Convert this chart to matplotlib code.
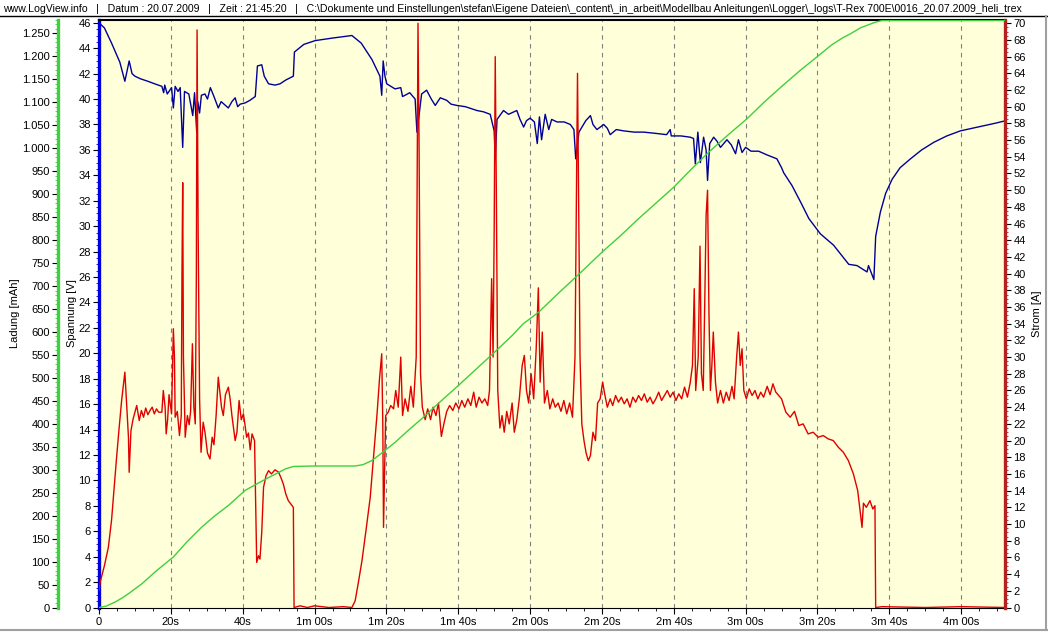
import matplotlib
matplotlib.use('Agg')
import matplotlib.pyplot as plt
from matplotlib.ticker import MultipleLocator, FuncFormatter
from matplotlib.lines import Line2D

# log values (time in s)
voltage_pts = [
    (0, 46.0), (1.5, 45.6), (3.5, 44.4), (5.8, 42.9), (7.2, 41.4), (8.4, 43.0), (9.2, 42.0),
    (10, 41.8), (11.5, 41.6), (13.6, 41.4), (15.5, 41.2), (17.5, 41.0), (18.0, 40.5), (18.3, 41.1),
    (19.0, 40.4), (20.2, 40.9), (20.7, 39.3), (21.2, 41.0), (22.0, 40.6), (22.6, 40.9), (23.3, 36.2),
    (23.8, 40.6), (25.0, 40.4), (26.1, 38.7), (26.6, 40.5), (27.2, 37.4), (27.5, 39.8), (28.0, 38.9),
    (28.5, 40.3), (29.5, 40.4), (30.2, 40.0), (31.0, 40.9), (32.0, 40.2), (33.2, 39.3), (34.0, 39.8),
    (34.8, 39.6), (36.0, 39.3), (37.0, 39.8), (37.9, 40.1), (38.6, 39.4), (39.3, 39.6), (40.7, 39.7),
    (42.0, 39.9), (43.5, 40.2), (44.1, 42.6), (45.3, 42.7), (46.0, 41.8), (47.2, 41.2), (49.0, 41.1),
    (50.4, 41.2), (52.0, 41.5), (54.1, 41.8), (54.4, 43.7), (57.0, 44.3), (60.2, 44.6), (65.0, 44.8),
    (70.4, 45.0), (73.0, 44.4), (76.0, 43.1), (78.2, 41.8), (78.7, 40.3), (79.1, 43.0), (79.6, 41.8),
    (80.1, 41.2), (82.4, 40.8), (84.0, 40.9), (84.5, 40.2), (85.2, 40.3), (86.5, 40.5), (88.0, 40.0),
    (88.5, 37.4), (89.0, 38.5), (89.8, 40.4), (91.2, 40.7), (92.5, 40.0), (93.6, 39.5), (95.0, 40.1),
    (96.8, 39.9), (98.0, 39.6), (99.6, 39.5), (102.0, 39.4), (105.2, 39.1), (107.0, 39.0),
    (108.9, 38.8), (110.0, 37.5), (110.3, 35.3), (110.8, 38.4), (112.6, 39.1), (114.0, 38.8),
    (116.3, 39.1), (117.2, 38.4), (118.2, 37.8), (119.0, 38.3), (120.0, 38.5), (121.2, 38.2),
    (122.0, 36.5), (122.6, 38.6), (123.2, 36.8), (124.2, 38.8), (125.2, 37.6), (126.0, 38.4),
    (127.5, 38.2), (129.5, 38.2), (131.2, 38.0), (132.2, 37.6), (132.7, 35.3), (133.6, 37.4),
    (135.5, 38.3), (136.8, 38.7), (137.5, 38.0), (138.6, 37.6), (140.5, 38.0), (141.5, 37.7),
    (142.3, 37.2), (144.0, 37.6), (146.0, 37.5), (149.0, 37.4), (151.6, 37.4), (155.0, 37.3),
    (158.0, 37.2), (159.0, 37.6), (159.3, 37.1), (162.0, 37.1), (164.6, 37.0), (165.5, 36.9),
    (166.0, 34.9), (166.7, 37.4), (167.4, 35.0), (168.3, 37.0), (169.0, 36.0), (169.4, 33.6),
    (170.0, 36.5), (171.1, 37.0), (172.0, 36.7), (173.0, 36.2), (174.8, 36.8), (176.0, 36.4),
    (177.2, 35.7), (178.0, 36.8), (179.0, 35.8), (180.0, 36.2), (181.5, 35.9), (183.6, 35.9),
    (186.0, 35.6), (188.7, 35.3), (190.0, 34.6), (190.6, 34.2), (192.9, 33.2), (195.3, 31.9),
    (197.6, 30.6), (200.8, 29.4), (204.5, 28.5), (208.7, 27.0), (211.0, 26.9), (213.8, 26.4),
    (214.2, 26.9), (215.7, 25.8), (216.2, 29.2), (217.5, 31.1), (219.0, 32.6), (220.8, 33.7),
    (223.0, 34.6), (225.9, 35.3), (229.0, 36.0), (232.4, 36.6), (236.0, 37.1), (239.8, 37.5),
    (243.0, 37.7), (246.3, 37.9), (249.5, 38.1), (252.4, 38.3),
]

current_pts = [
    (0, 2.0), (0.3, 3.0), (1.5, 5.0), (2.6, 7.2), (3.5, 10.5), (4.9, 18.0), (5.6, 21.5), (6.3, 24.8),
    (7.2, 28.2), (7.6, 25.0), (8.2, 20.4), (8.4, 16.2), (8.9, 21.2), (9.5, 22.6), (10.0, 23.4),
    (10.5, 24.2), (11.2, 22.4), (11.8, 23.6), (12.4, 22.8), (13.0, 23.9), (13.6, 23.1), (14.2, 23.6),
    (14.8, 24.0), (15.4, 23.2), (16.0, 23.8), (16.6, 23.4), (17.5, 23.4), (17.9, 26.0), (18.4, 24.0),
    (18.7, 20.8), (19.1, 22.5), (19.5, 25.5), (20.2, 23.2), (20.7, 33.4), (21.0, 30.0), (21.2, 22.8),
    (21.8, 23.5), (22.4, 20.6), (22.9, 23.0), (23.1, 40.1), (23.3, 50.9), (23.5, 30.0), (24.0, 20.4),
    (24.6, 23.0), (25.1, 21.9), (25.5, 23.5), (26.0, 31.6), (26.4, 24.0), (26.8, 22.0), (27.1, 40.0),
    (27.3, 69.2), (27.6, 45.0), (28.0, 25.0), (28.4, 18.6), (29.0, 22.2), (29.5, 21.0), (30.2, 18.5),
    (30.9, 17.8), (31.5, 20.4), (32.0, 19.5), (32.6, 23.0), (33.2, 27.6), (33.6, 26.0), (34.1, 24.0),
    (34.6, 23.0), (35.2, 25.5), (36.0, 26.4), (36.5, 25.0), (37.0, 23.0), (37.9, 20.0), (38.4, 21.0),
    (39.0, 24.8), (39.6, 22.5), (40.2, 23.2), (40.6, 22.0), (41.1, 20.4), (41.6, 20.9), (42.1, 18.9),
    (42.6, 20.8), (43.3, 20.0), (43.9, 5.4), (44.4, 6.2), (44.8, 5.8), (45.3, 9.0), (45.8, 14.4),
    (46.5, 15.8), (47.2, 16.4), (48.0, 16.0), (49.0, 16.5), (50.0, 16.2), (50.7, 15.5), (51.3, 14.8),
    (52.0, 13.6), (52.7, 12.8), (53.4, 12.4), (54.1, 12.0), (54.3, 0.0), (56.0, 0.2), (58.0, 0.0),
    (60.0, 0.2), (64.0, 0.0), (68.0, 0.1), (70.4, 0.0), (71.3, 0.8), (72.2, 3.0), (73.2, 5.6),
    (74.4, 9.5), (75.5, 13.2), (76.5, 18.5), (77.4, 23.2), (78.1, 27.5), (78.7, 30.4), (79.0, 22.0),
    (79.2, 9.6), (79.5, 16.0), (79.8, 23.0), (80.5, 23.4), (81.2, 24.2), (82.0, 23.8), (82.6, 26.0),
    (83.3, 24.0), (84.0, 30.0), (84.5, 23.0), (85.2, 25.0), (86.0, 23.5), (86.8, 26.5), (87.5, 24.0),
    (88.3, 30.0), (88.8, 70.0), (89.1, 55.0), (89.5, 28.0), (90.0, 24.0), (90.8, 22.5), (91.5, 23.8),
    (92.3, 22.5), (93.0, 24.0), (93.8, 23.0), (94.5, 24.5), (95.3, 20.5), (96.0, 22.0), (96.8, 23.5),
    (97.6, 24.2), (98.5, 23.6), (99.3, 24.5), (100.2, 23.8), (101.0, 24.8), (101.8, 24.0),
    (102.7, 25.0), (103.5, 24.2), (104.3, 25.8), (105.0, 24.0), (105.8, 25.2), (106.6, 24.5),
    (107.4, 25.0), (108.2, 24.2), (108.7, 26.0), (109.3, 39.4), (109.7, 30.0), (110.0, 45.0),
    (110.3, 66.0), (110.6, 50.0), (111.0, 26.0), (111.6, 21.5), (112.2, 23.0), (112.8, 21.0),
    (113.5, 23.5), (114.2, 22.0), (115.0, 24.5), (115.6, 21.0), (116.3, 22.5), (117.0, 25.0),
    (117.8, 29.0), (118.4, 30.2), (119.0, 26.0), (119.6, 24.5), (120.3, 28.0), (121.0, 25.0),
    (121.7, 31.0), (122.3, 38.3), (122.8, 27.0), (123.4, 33.0), (124.0, 24.5), (124.8, 26.0),
    (125.5, 23.8), (126.3, 25.0), (127.0, 24.0), (127.8, 24.5), (128.6, 23.5), (129.4, 24.8),
    (130.2, 23.2), (131.0, 24.5), (131.8, 22.8), (132.5, 30.0), (132.8, 44.7), (133.2, 64.0),
    (133.5, 50.0), (133.9, 30.0), (134.4, 22.0), (135.0, 20.0), (135.6, 18.5), (136.2, 17.6),
    (136.8, 18.2), (137.5, 21.0), (138.2, 20.0), (138.8, 24.5), (139.5, 25.0), (140.2, 27.0),
    (140.8, 25.5), (141.5, 24.0), (142.3, 25.0), (143.0, 24.2), (143.8, 25.4), (144.6, 24.6),
    (145.4, 25.2), (146.2, 24.4), (147.0, 25.0), (147.8, 24.0), (148.6, 25.2), (149.4, 24.6),
    (150.2, 25.4), (151.0, 24.8), (151.8, 25.6), (152.6, 24.6), (153.4, 25.2), (154.2, 24.4),
    (155.0, 25.0), (155.8, 25.8), (156.6, 24.8), (157.4, 25.4), (158.2, 26.0), (159.0, 25.2),
    (159.8, 25.8), (160.6, 24.8), (161.4, 25.6), (162.2, 25.0), (163.0, 26.4), (163.8, 25.2),
    (164.6, 27.0), (165.2, 29.0), (165.7, 38.2), (166.1, 26.0), (166.8, 30.0), (167.3, 43.3),
    (167.7, 28.0), (168.2, 26.0), (168.6, 36.0), (169.0, 47.0), (169.4, 50.0), (169.8, 35.0),
    (170.2, 26.0), (170.6, 29.0), (171.0, 33.0), (171.6, 27.0), (172.2, 24.5), (173.0, 26.0),
    (173.8, 24.5), (174.6, 25.8), (175.4, 24.8), (176.2, 26.5), (176.8, 25.0), (177.5, 30.0),
    (178.0, 33.0), (178.5, 29.0), (179.0, 31.0), (179.5, 26.0), (180.2, 25.0), (181.0, 26.2),
    (181.8, 25.4), (182.6, 26.0), (183.4, 25.0), (184.2, 25.8), (185.0, 25.2), (186.0, 26.5),
    (186.8, 25.5), (187.6, 26.8), (188.4, 25.8), (190.0, 25.0), (191.2, 23.4), (192.4, 22.8),
    (193.6, 23.5), (194.8, 21.8), (196.0, 22.0), (197.4, 20.8), (198.8, 21.0), (200.2, 20.4),
    (201.6, 20.6), (203.0, 20.2), (204.4, 20.0), (205.8, 19.2), (207.2, 18.6), (208.6, 17.6),
    (210.0, 16.0), (211.2, 14.0), (212.0, 11.0), (212.4, 9.6), (212.8, 12.5), (213.6, 12.0),
    (214.6, 12.8), (215.4, 11.8), (216.0, 12.2), (216.2, 0.0), (218.0, 0.1), (230.0, 0.0),
    (240.0, 0.1), (252.4, 0.0),
]

charge_pts = [
    (0, 0), (2, 3), (4.5, 12), (6.5, 21), (8.2, 30), (12, 52), (16, 80), (20.7, 110), (24.5, 143),
    (28.6, 175), (32, 198), (36, 222), (40.7, 255), (43.9, 269), (47, 282), (50, 294), (52, 302),
    (54.1, 307), (60, 308), (65, 308), (71.3, 308), (73.5, 311), (76, 320), (79, 338), (82.5, 360),
    (86, 385), (90, 412), (95, 448), (100, 483), (105, 519), (110, 555), (115, 592), (118, 617),
    (122.4, 643), (128, 685), (133.5, 725), (140.5, 777), (145, 808), (150, 845), (155, 880),
    (160, 915), (165, 955), (169.7, 991), (175, 1028), (180.4, 1064), (185, 1099), (190, 1134),
    (195, 1168), (200.4, 1202), (204, 1225), (207, 1240), (209.2, 1249), (212, 1262),
    (215.7, 1273), (218, 1278), (252.4, 1278),
]

title = ("www.LogView.info   |   Datum : 20.07.2009   |   Zeit : 21:45:20   |   "
         "C:\\Dokumente und Einstellungen\\stefan\\Eigene Dateien\\_content\\_in_arbeit\\"
         "Modellbau Anleitungen\\Logger\\_logs\\T-Rex 700E\\0016_20.07.2009_heli_trex")

t_v, volt = zip(*voltage_pts)
t_i, curr = zip(*current_pts)
t_q, charge = zip(*charge_pts)

plt.rcParams['font.family'] = ['Liberation Sans', 'DejaVu Sans']
plt.rcParams['font.size'] = 8

W, H = 1048, 633
fig = plt.figure(figsize=(W / 100, H / 100), dpi=100)
ax = fig.add_axes([99 / W, (H - 607.5) / H, 906 / W, 588 / H])
ax.set_facecolor('#ffffd9')

BLUE, RED, GREEN = '#0000dd', '#b52020', '#3fcf3f'


def fmt_time(v, pos):
    s = int(round(v))
    if s == 0:
        return '0'
    m, s = divmod(s, 60)
    if m == 0:
        return f'{s}s'
    return f'{m}m {s:02d}s'


# voltage (host axis)
ax.plot(t_v, volt, color='#000099', lw=1.0)
ax.set_xlim(0, 252.2)
ax.set_ylim(0, 46.26)
ax.xaxis.set_major_locator(MultipleLocator(20))
ax.xaxis.set_minor_locator(MultipleLocator(5))
ax.xaxis.set_major_formatter(FuncFormatter(fmt_time))
ax.yaxis.set_major_locator(MultipleLocator(2))
ax.yaxis.set_minor_locator(MultipleLocator(0.5))
ax.xaxis.grid(True, which='major', color='#808080', linestyle=(0, (4, 4)), lw=0.8)
ax.tick_params(axis='x', which='major', length=4, pad=3)
ax.tick_params(axis='x', which='minor', length=2.5)
ax.tick_params(axis='y', which='major', length=4, pad=2)
ax.tick_params(axis='y', which='minor', length=2, color=BLUE)
ax.spines['left'].set_color(BLUE)
ax.spines['left'].set_linewidth(2.4)
ax.spines['top'].set_linewidth(1.5)
ax.set_ylabel('Spannung [V]')
ax.yaxis.set_label_coords((77 - 99) / 906, 0.5)

# current (right axis)
ax_i = ax.twinx()
ax_i.plot(t_i, curr, color='#e00000', lw=1.0)
ax_i.set_ylim(0, 70.45)
ax_i.yaxis.set_major_locator(MultipleLocator(2))
ax_i.yaxis.set_minor_locator(MultipleLocator(0.5))
ax_i.tick_params(axis='y', which='major', length=4, pad=2)
ax_i.tick_params(axis='y', which='minor', length=2, color=RED)
ax_i.spines['right'].set_color(RED)
ax_i.spines['right'].set_linewidth(2.4)
for s in ['left', 'top', 'bottom']:
    ax_i.spines[s].set_visible(False)
ax_i.set_ylabel('Strom [A]')
ax_i.yaxis.set_label_coords((1032 - 99) / 906, 0.5)

# charge (outer left axis)
ax_q = ax.twinx()
ax_q.plot(t_q, charge, color=GREEN, lw=1.0)
ax_q.set_ylim(0, 1280)
ax_q.yaxis.set_ticks_position('left')
ax_q.yaxis.set_label_position('left')
ax_q.spines['left'].set_position(('axes', (58 - 99) / 906))
ax_q.spines['left'].set_visible(True)
ax_q.spines['left'].set_color(GREEN)
ax_q.spines['left'].set_linewidth(2.4)
for s in ['right', 'top', 'bottom']:
    ax_q.spines[s].set_visible(False)
ax_q.yaxis.set_major_locator(MultipleLocator(50))
ax_q.yaxis.set_minor_locator(MultipleLocator(10))
ax_q.yaxis.set_major_formatter(FuncFormatter(lambda v, p: f'{int(v):,}'.replace(',', '.')))
ax_q.tick_params(axis='y', which='major', length=4, pad=2)
ax_q.tick_params(axis='y', which='minor', length=2, color=GREEN)
ax_q.set_ylabel('Ladung [mAh]')
ax_q.yaxis.set_label_coords((20 - 99) / 906, 0.5)

# header line and window frame
fig.text(3 / W, 1 - 8.5 / H, title, fontsize=7.55, va='center', ha='left')
fig.add_artist(Line2D([0, 1], [1 - 16 / H, 1 - 16 / H], color='black', lw=1.0))
fig.add_artist(Line2D([0, 1], [1 - 629.5 / H, 1 - 629.5 / H], color='#a0a0a0', lw=1.5))
fig.add_artist(Line2D([1 - 2 / W, 1 - 2 / W], [1 - 629.5 / H, 1 - 16 / H], color='#a0a0a0', lw=1.5))

fig.savefig('out.png', dpi=100)
